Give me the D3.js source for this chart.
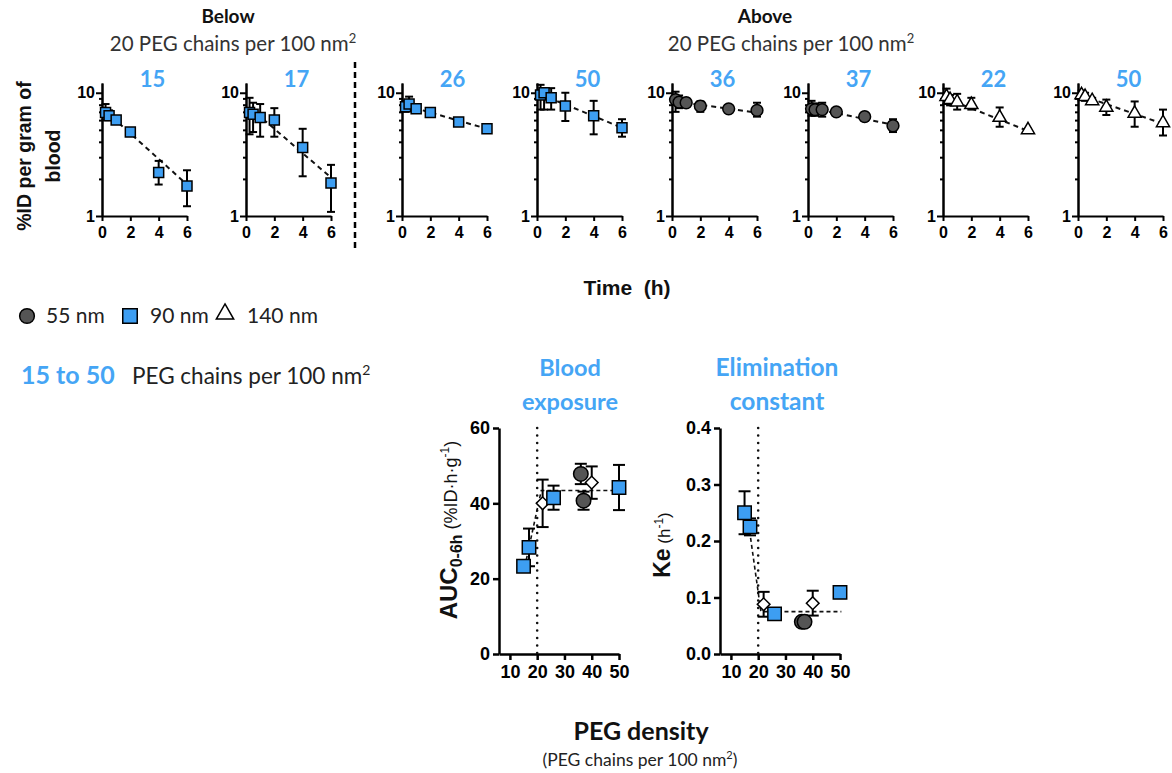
<!DOCTYPE html>
<html><head><meta charset="utf-8">
<script src="https://cdnjs.cloudflare.com/ajax/libs/d3/7.8.5/d3.min.js"></script>
<style>
body{margin:0;background:#fff;}
svg{display:block;}
.axis path,.axis line{stroke:#000;stroke-width:2;}
.axis text{font-family:"Liberation Sans",Arial,sans-serif;font-weight:bold;fill:#000;}
</style>
</head><body><div id="chart"></div>
<script>
// top panels: %ID per gram of blood vs time
var times = [0.25, 0.5, 1, 2, 4, 6];
var panelLabels = ["15","17","26","50","36","37","22","50"];
var panelShapes = ["square","square","square","square","circle","circle","triangle","triangle"];
var panelMeans = [
  [6.9,6.5,6.0,4.8,2.25,1.75],
  [6.9,6.7,6.3,6.0,3.6,1.85],
  [7.7,8.1,7.4,6.9,5.8,5.1],
  [9.6,10.0,9.1,7.8,6.5,5.2],
  [8.8,8.4,8.3,7.8,7.4,7.2],
  [7.4,7.3,7.3,7.0,6.4,5.4],
  [9.3,8.8,8.4,8.0,6.3,5.0],
  [9.6,9.3,8.6,7.6,6.8,5.7]
];
var panelErrHi = [
  [8.1,7.2,6.4,5.1,2.8,2.35],
  [9.1,8.3,8.1,7.5,5.1,2.6],
  [8.6,9.3,7.9,7.2,6.0,5.3],
  [11.6,10.9,10.9,10.0,8.6,6.1],
  [10.2,9.5,9.0,8.5,7.7,8.3],
  [8.6,8.2,8.3,7.5,6.9,6.1],
  [10.8,9.6,9.8,9.1,7.6,5.1],
  [10.4,10.0,9.1,8.8,8.5,7.3]
];
var panelErrLo = [
  [6.0,6.0,5.7,4.5,1.8,1.2],
  [4.6,4.8,4.4,4.4,2.1,1.08],
  [7.0,7.2,6.9,6.6,5.6,4.9],
  [7.3,7.3,7.3,5.9,4.6,4.4],
  [7.0,7.5,7.7,7.0,7.1,6.4],
  [6.5,6.5,6.4,6.5,5.9,4.8],
  [8.1,7.9,7.3,7.3,5.3,4.9],
  [8.8,8.6,8.1,6.6,5.3,4.5]
];
// fit line ends (t = 0.25 and t = 6)
var fitFrom = [7.1,7.6,7.9,9.7,8.5,7.5,9.0,9.5];
var fitTo   = [1.8,2.05,5.1,5.2,6.9,5.5,4.9,5.6];

// bottom panels
var densBlue = [15,17,26,50];
var aucBlue = [23.3,28.3,41.5,44.2];
var aucBlueErr = [1.2,5,3.2,6];
var keBlue = [0.25,0.225,0.071,0.109];
var keBlueErr = [0.038,0.015,0.005,0.01];
var densGray = [36,37];
var aucGray = [47.8,40.7];
var aucGrayErr = [2.7,2.4];
var keGray = [0.057,0.057];
var keGrayErr = [0.003,0.003];
var densWhite = [22,40];
var aucWhite = [40,45.5];
var aucWhiteErr = [6.3,4.3];
var keWhite = [0.088,0.09];
var keWhiteErr = [0.022,0.022];
var aucFitX = [16,21.5,51], aucFitY = [25,43.4,43.4];
var keFitX = [16.5,21,50.5], keFitY = [0.23,0.075,0.075];

var blue = "#3d9ef2", titleBlue = "#45a5f5";
var fillOf = {square: blue, circle: "#555", triangle: "#fff", diamond: "#fff"};
var symOf = {square: d3.symbolSquare, circle: d3.symbolCircle, triangle: d3.symbolTriangle, diamond: d3.symbolSquare};

var svg = d3.select("#chart").append("svg").attr("width",1172).attr("height",773);

function marker(g, shape, cx, cy, size){
  g.append("path")
    .attr("d", d3.symbol().type(symOf[shape]).size(size))
    .attr("transform","translate("+cx+","+cy+")"+(shape=="diamond"?" rotate(45)":""))
    .attr("fill", fillOf[shape]).attr("stroke","#000").attr("stroke-width",1.5);
}
function errBar(g, cx, y1, y2, cap){
  g.append("line").attr("x1",cx).attr("x2",cx).attr("y1",y1).attr("y2",y2)
    .attr("stroke","#000").attr("stroke-width",2);
  [y1,y2].forEach(function(y){
    g.append("line").attr("x1",cx-cap/2).attr("x2",cx+cap/2).attr("y1",y).attr("y2",y)
      .attr("stroke","#000").attr("stroke-width",2);
  });
}

// ---------- top small multiples ----------
var panelX = [102,246,402,537,672,808,943,1078];
var pw = 85;
var yTop = d3.scaleLog().domain([1,12]).range([216,83]);
var topSize = {square:100, circle:110, triangle:75};

panelLabels.forEach(function(lab, i){
  var x = d3.scaleLinear().domain([0,6]).range([panelX[i], panelX[i]+pw]);
  var g = svg.append("g");

  g.append("g").attr("class","axis").attr("transform","translate("+panelX[i]+",0)")
    .call(d3.axisLeft(yTop).tickValues([2,3,4,5,6,7,8,9]).tickSize(3).tickSizeOuter(0).tickFormat(""));
  var ya = g.append("g").attr("class","axis").attr("transform","translate("+panelX[i]+",0)")
    .call(d3.axisLeft(yTop).tickValues([1,10]).tickSize(6).tickSizeOuter(0).tickFormat(d3.format("d")));
  ya.selectAll("text").style("font-size","16px").attr("dx","2");
  var xa = g.append("g").attr("class","axis").attr("transform","translate(0,216)")
    .call(d3.axisBottom(x).tickValues([0,2,4,6]).tickSize(5).tickSizeOuter(0).tickFormat(d3.format("d")));
  xa.selectAll("text").style("font-size","16px").attr("dy","0.9em");

  g.append("text").attr("x", panelX[i]+pw/2+8).attr("y",87)
    .attr("text-anchor","middle").style("font-family","Lato,sans-serif").style("font-weight","bold")
    .style("font-size","22px").attr("fill",titleBlue).text(lab);

  g.append("line").attr("x1",x(0.25)).attr("x2",x(6))
    .attr("y1",yTop(fitFrom[i])).attr("y2",yTop(fitTo[i]))
    .attr("stroke","#111").attr("stroke-width",2).attr("stroke-dasharray","5,4");

  times.forEach(function(t, j){
    errBar(g, x(t), yTop(panelErrHi[i][j]), yTop(panelErrLo[i][j]), 8);
  });
  times.forEach(function(t, j){
    marker(g, panelShapes[i], x(t), yTop(panelMeans[i][j]), topSize[panelShapes[i]]);
  });
});

// separator
svg.append("line").attr("x1",355).attr("x2",355).attr("y1",62).attr("y2",252)
  .attr("stroke","#000").attr("stroke-width",2.5).attr("stroke-dasharray","6,4");

var cal = "Lato,'Open Sans',sans-serif";
function txt(x, y, s, size, weight, fill, anchor){
  return svg.append("text").attr("x",x).attr("y",y).attr("text-anchor",anchor||"middle")
    .style("font-family",cal).style("font-size",size+"px").style("font-weight",weight||"normal")
    .attr("fill",fill||"#222").text(s);
}
txt(228,23,"Below",19,"bold","#111");
txt(765,23,"Above",19,"bold","#111");
[[233,51],[791,51]].forEach(function(p){
  var t = txt(p[0],p[1],"20 PEG chains per 100 nm",20.5,"normal","#333");
  t.append("tspan").attr("dy","-8").style("font-size","13px").text("2");
});

// y label top
[["%ID per gram of",24],["blood",53]].forEach(function(d){
  svg.append("text").attr("transform","translate("+d[1]+",156) rotate(-90)")
    .attr("text-anchor","middle").attr("dominant-baseline","central")
    .style("font-family","'Liberation Sans',Arial,sans-serif").style("font-weight","bold")
    .style("font-size","19.5px").attr("fill","#111").text(d[0]);
});
svg.append("text").attr("x",627).attr("y",295).attr("text-anchor","middle")
  .style("font-family","'Liberation Sans',Arial,sans-serif").style("font-weight","bold")
  .style("font-size","21px").attr("fill","#111").attr("xml:space","preserve").text("Time  (h)");

// legend
marker(svg,"circle",27,316,170);
txt(46,323,"55 nm",21,"normal","#222","start");
marker(svg,"square",130,316,210);
txt(150,323,"90 nm",21,"normal","#222","start");
marker(svg,"triangle",225,314,130);
txt(247,323,"140 nm",21,"normal","#222","start");
txt(21,384,"15 to 50",25,"bold",titleBlue,"start");
var pl = txt(132,384,"PEG chains per 100 nm",22.5,"normal","#222","start");
pl.append("tspan").attr("dy","-9").style("font-size","14px").text("2");

// ---------- bottom panels ----------
function bottomPanel(x0, yDomain, yTicks, yFmt, vals){
  var x = d3.scaleLinear().domain([6,50]).range([x0, x0+120]);
  var y = d3.scaleLinear().domain(yDomain).range([654,428]);
  var g = svg.append("g");
  var ya = g.append("g").attr("class","axis").attr("transform","translate("+x0+",0)")
    .call(d3.axisLeft(y).tickValues(yTicks).tickSize(6).tickSizeOuter(0).tickFormat(yFmt));
  ya.selectAll("text").style("font-size","18px");
  ya.selectAll("path,line").style("stroke-width","2.5");
  var xa = g.append("g").attr("class","axis").attr("transform","translate(0,654)")
    .call(d3.axisBottom(x).tickValues([10,20,30,40,50]).tickSize(6).tickSizeOuter(0));
  xa.selectAll("text").style("font-size","18px").attr("dy","0.85em");
  xa.selectAll("path,line").style("stroke-width","2.5");

  g.append("line").attr("x1",x(20)).attr("x2",x(20)).attr("y1",y(yDomain[1])).attr("y2",y(0))
    .attr("stroke","#111").attr("stroke-width",2.6).attr("stroke-linecap","round")
    .attr("stroke-dasharray","0,7.5");
  g.append("path").datum(d3.zip(vals.fitX, vals.fitY))
    .attr("d", d3.line().x(function(d){return x(d[0]);}).y(function(d){return y(d[1]);}))
    .attr("fill","none").attr("stroke","#111").attr("stroke-width",1.6).attr("stroke-dasharray","4,3");

  vals.groups.forEach(function(gr){
    gr.x.forEach(function(d,k){
      errBar(g, x(d), y(gr.v[k]+gr.e[k]), y(gr.v[k]-gr.e[k]), 12);
    });
  });
  vals.groups.forEach(function(gr){
    gr.x.forEach(function(d,k){
      marker(g, gr.shape, x(d), y(gr.v[k]), gr.size);
    });
  });
  return x;
}
bottomPanel(499,[0,60],[0,20,40,60],d3.format("d"),{
  fitX: aucFitX, fitY: aucFitY,
  groups: [
    {shape:"circle", x:densGray, v:aucGray, e:aucGrayErr, size:165},
    {shape:"diamond", x:densWhite, v:aucWhite, e:aucWhiteErr, size:80},
    {shape:"square", x:densBlue, v:aucBlue, e:aucBlueErr, size:180}
  ]
});
bottomPanel(720,[0,0.4],[0,0.1,0.2,0.3,0.4],d3.format(".1f"),{
  fitX: keFitX, fitY: keFitY,
  groups: [
    {shape:"circle", x:densGray, v:keGray, e:keGrayErr, size:165},
    {shape:"diamond", x:densWhite, v:keWhite, e:keWhiteErr, size:80},
    {shape:"square", x:densBlue, v:keBlue, e:keBlueErr, size:180}
  ]
});

txt(570,376,"Blood",23.5,"bold",titleBlue);
txt(570,410,"exposure",23.5,"bold",titleBlue);
txt(777,376,"Elimination",24.5,"bold",titleBlue);
txt(777,410,"constant",24.5,"bold",titleBlue);

// rotated y labels
var aucL = svg.append("text").attr("transform","translate(457,530) rotate(-90)")
  .attr("text-anchor","middle").style("font-family","'Liberation Sans',Arial,sans-serif").attr("fill","#111");
aucL.append("tspan").style("font-weight","bold").style("font-size","24px").text("AUC");
aucL.append("tspan").style("font-weight","bold").style("font-size","16px").attr("dy","5").text("0-6h");
aucL.append("tspan").style("font-size","18px").attr("dy","-5").text(" (%ID\u00b7h\u00b7g");
aucL.append("tspan").style("font-size","12px").attr("dy","-8").text("-1");
aucL.append("tspan").style("font-size","18px").attr("dy","8").text(")");

var keL = svg.append("text").attr("transform","translate(670,545) rotate(-90)")
  .attr("text-anchor","middle").style("font-family","'Liberation Sans',Arial,sans-serif").attr("fill","#111");
keL.append("tspan").style("font-weight","bold").style("font-size","23px").text("Ke");
keL.append("tspan").style("font-size","17px").text(" (h");
keL.append("tspan").style("font-size","12px").attr("dy","-7").text("-1");
keL.append("tspan").style("font-size","17px").attr("dy","7").text(")");

txt(641,740,"PEG density",25,"bold","#111");
var pd = txt(640,766,"(PEG chains per 100 nm",17.5,"normal","#222");
pd.append("tspan").attr("dy","-7").style("font-size","11px").text("2");
pd.append("tspan").attr("dy","7").text(")");
</script>
</body></html>
